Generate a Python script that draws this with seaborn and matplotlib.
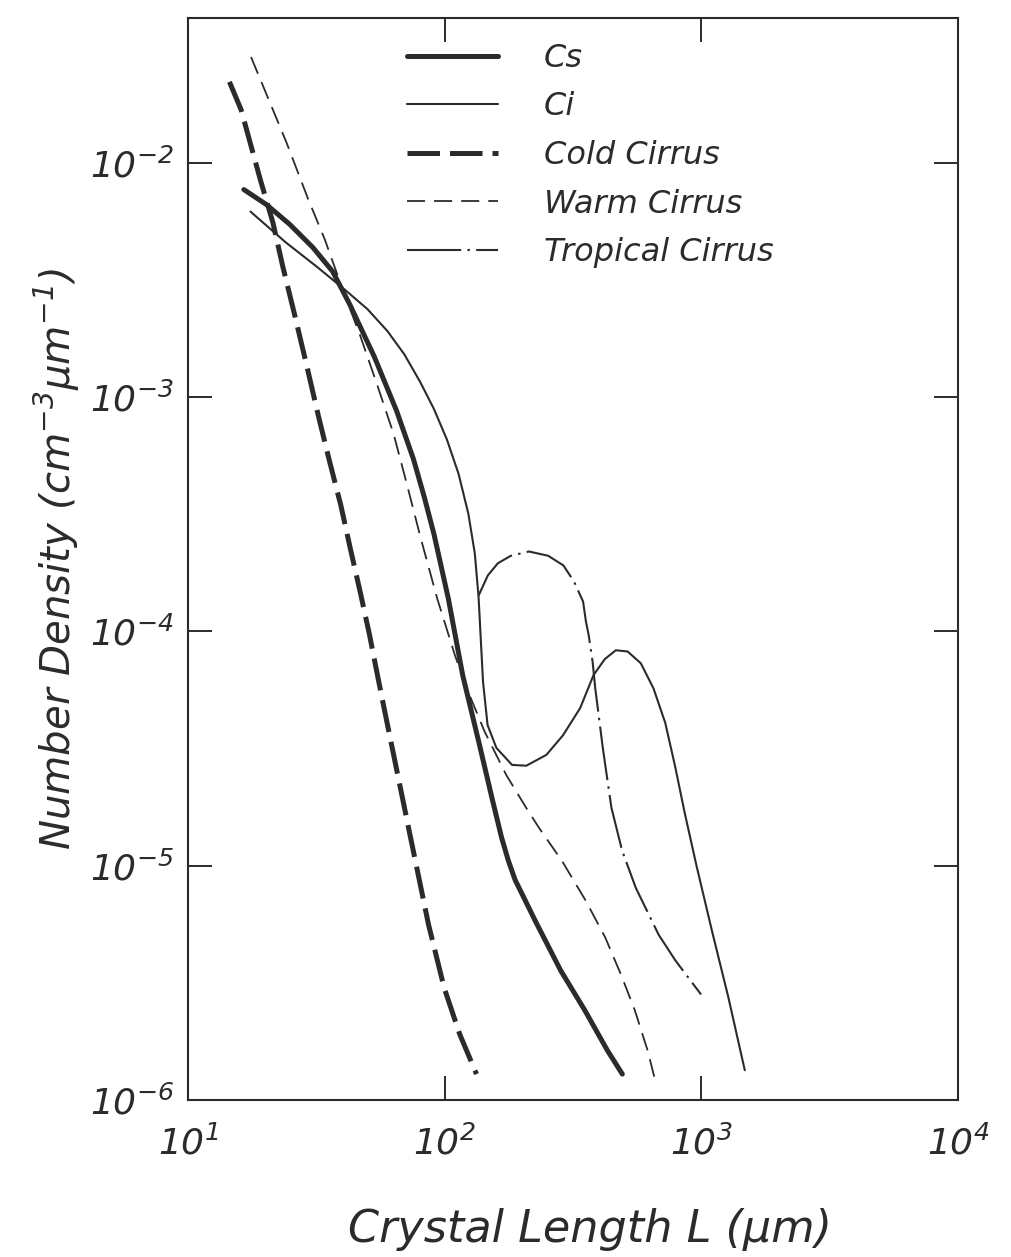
import matplotlib
matplotlib.use("Agg")
import matplotlib.pyplot as plt
import seaborn as sns

# ---- data (crystal length in micrometres, number density) ----
cs_L = [16.5, 20.2, 24.9, 30.6, 36.6, 42.6, 53.1, 65.0, 75.5, 83.2, 90.8, 103.3, 117.5,
        136.4, 152.7, 166.5, 177, 188, 206, 225, 283, 351, 430, 492]
cs_N = [7.67e-3, 6.62e-3, 5.45e-3, 4.35e-3, 3.43e-3, 2.49e-3, 1.49e-3, 8.7e-4, 5.44e-4,
        3.75e-4, 2.6e-4, 1.38e-4, 6.5e-5, 3.3e-5, 1.95e-5, 1.32e-5, 1.05e-5, 8.7e-6,
        7.1e-6, 5.83e-6, 3.57e-6, 2.42e-6, 1.63e-6, 1.29e-6]

ci_L = [17.5, 24.0, 32.0, 41.1, 50.0, 59.8, 69.6, 80.2, 90.7, 101.9, 113.2, 123.6, 131.0,
        135.5, 141, 146.9, 159, 183, 208, 249, 289, 337, 380, 420, 464, 516, 581, 651,
        723, 789, 861, 955, 1099, 1274, 1476]
ci_N = [6.18e-3, 4.57e-3, 3.57e-3, 2.85e-3, 2.37e-3, 1.91e-3, 1.52e-3, 1.16e-3, 8.9e-4,
        6.6e-4, 4.7e-4, 3.18e-4, 2.15e-4, 1.40e-4, 6.1e-5, 3.98e-5, 3.18e-5, 2.69e-5,
        2.67e-5, 2.97e-5, 3.6e-5, 4.7e-5, 6.5e-5, 7.6e-5, 8.3e-5, 8.2e-5, 7.3e-5, 5.7e-5,
        4.07e-5, 2.67e-5, 1.68e-5, 1.01e-5, 5.28e-6, 2.74e-6, 1.34e-6]

cold_L = [14.5, 16.1, 19.1, 21.4, 23.4, 26.1, 29.0, 32.2, 35.4, 39.4, 42.9, 46.8, 51.0,
          54.7, 59.1, 72.3, 86.5, 99.6, 114.6, 133]
cold_N = [2.21e-2, 1.68e-2, 8.5e-3, 5.56e-3, 3.6e-3, 2.21e-3, 1.36e-3, 8.3e-4, 5.44e-4,
          3.44e-4, 2.25e-4, 1.48e-4, 9.6e-5, 6.5e-5, 4.27e-5, 1.45e-5, 5.6e-6, 3.0e-6,
          1.9e-6, 1.29e-6]

warm_L = [17.6, 24.2, 29.4, 34.1, 40.0, 46.9, 54.5, 63.2, 70.8, 80.7, 93.5, 109.6, 121.9,
          142.8, 173.6, 207.4, 233, 286, 354, 422, 486, 550, 617, 656]
warm_N = [2.82e-2, 1.216e-2, 6.97e-3, 4.7e-3, 2.88e-3, 1.82e-3, 1.13e-3, 6.96e-4, 4.35e-4,
          2.49e-4, 1.38e-4, 7.9e-5, 5.7e-5, 3.75e-5, 2.44e-5, 1.77e-5, 1.45e-5, 1.05e-5,
          7.1e-6, 4.94e-6, 3.43e-6, 2.42e-6, 1.63e-6, 1.25e-6]

trop_L = [135.5, 147.2, 161, 181, 213, 253, 290, 319, 346, 355, 364, 377, 386, 413, 446,
          491, 555, 681, 792, 997]
trop_N = [1.42e-4, 1.73e-4, 1.95e-4, 2.10e-4, 2.19e-4, 2.10e-4, 1.91e-4, 1.63e-4, 1.34e-4,
          1.10e-4, 9.6e-5, 7.4e-5, 5.7e-5, 3.18e-5, 1.77e-5, 1.16e-5, 8.05e-6, 5.08e-6,
          3.94e-6, 2.82e-6]

series_names = ["Cs", "Ci", "Cold Cirrus", "Warm Cirrus", "Tropical Cirrus"]

x_tick_values = [1e1, 1e2, 1e3, 1e4]
x_tick_labels = ["$10^{1}$", "$10^{2}$", "$10^{3}$", "$10^{4}$"]
y_tick_values = [1e-6, 1e-5, 1e-4, 1e-3, 1e-2]
y_tick_labels = ["$10^{-6}$", "$10^{-5}$", "$10^{-4}$", "$10^{-3}$", "$10^{-2}$"]

x_label = "Crystal Length L (μm)"
y_label = "Number Density (cm$^{-3}$μm$^{-1}$)"

# ---- style ----
sns.set_theme(style="ticks")
plt.rcParams["font.family"] = ["DejaVu Sans"]
plt.rcParams["font.style"] = "italic"
plt.rcParams["mathtext.fontset"] = "custom"
plt.rcParams["mathtext.rm"] = "DejaVu Sans:italic"
plt.rcParams["mathtext.it"] = "DejaVu Sans:italic"
plt.rcParams["mathtext.default"] = "it"

INK = "#2b2b2b"

fig = plt.figure(figsize=(10.12, 12.57), dpi=100)
fig.patch.set_facecolor("white")
ax = fig.add_axes([0.1858, 0.1249, 0.7609, 0.8608])
ax.set_facecolor("white")
ax.set_xscale("log")
ax.set_yscale("log")

styles = {
    "Cs": dict(linewidth=3.6, linestyle="-"),
    "Ci": dict(linewidth=1.5, linestyle="-"),
    "Cold Cirrus": dict(linewidth=3.6, linestyle=(0, (6.5, 2))),
    "Warm Cirrus": dict(linewidth=1.3, linestyle=(0, (10, 5))),
    "Tropical Cirrus": dict(linewidth=1.5, linestyle=(0, (26, 3, 1.2, 3))),
}
data = {
    "Cs": (cs_L, cs_N),
    "Ci": (ci_L, ci_N),
    "Cold Cirrus": (cold_L, cold_N),
    "Warm Cirrus": (warm_L, warm_N),
    "Tropical Cirrus": (trop_L, trop_N),
}
for name in series_names:
    L, N = data[name]
    sns.lineplot(x=L, y=N, ax=ax, color=INK, label=name, sort=False,
                 estimator=None, solid_joinstyle="round", solid_capstyle="round",
                 **styles[name])

ax.set_xlim(10, 1e4)
ax.set_ylim(1e-6, 0.0414)
ax.set_xticks(x_tick_values)
ax.set_xticklabels(x_tick_labels)
ax.set_yticks(y_tick_values)
ax.set_yticklabels(y_tick_labels)
ax.minorticks_off()
ax.tick_params(which="major", direction="in", length=17, width=1.4,
               top=True, right=True, labelsize=26, pad=10,
               color=INK, labelcolor=INK)
ax.tick_params(axis="x", pad=18)

for sp in ax.spines.values():
    sp.set_linewidth(1.5)
    sp.set_color(INK)
    sp.set_visible(True)

ax.set_xlabel(x_label, fontsize=32, color=INK)
ax.xaxis.set_label_coords(0.522, -0.10)
ax.set_ylabel(y_label, fontsize=29, color=INK)
ax.yaxis.set_label_coords(-0.138, 0.5)

leg = ax.legend(loc="upper left", bbox_to_anchor=(0.284, 0.977), frameon=False,
                fontsize=23, handlelength=2.85, handletextpad=1.45,
                labelspacing=0.55, borderpad=0, borderaxespad=0)
for t in leg.get_texts():
    t.set_color(INK)

fig.savefig("out.png", dpi=100)
